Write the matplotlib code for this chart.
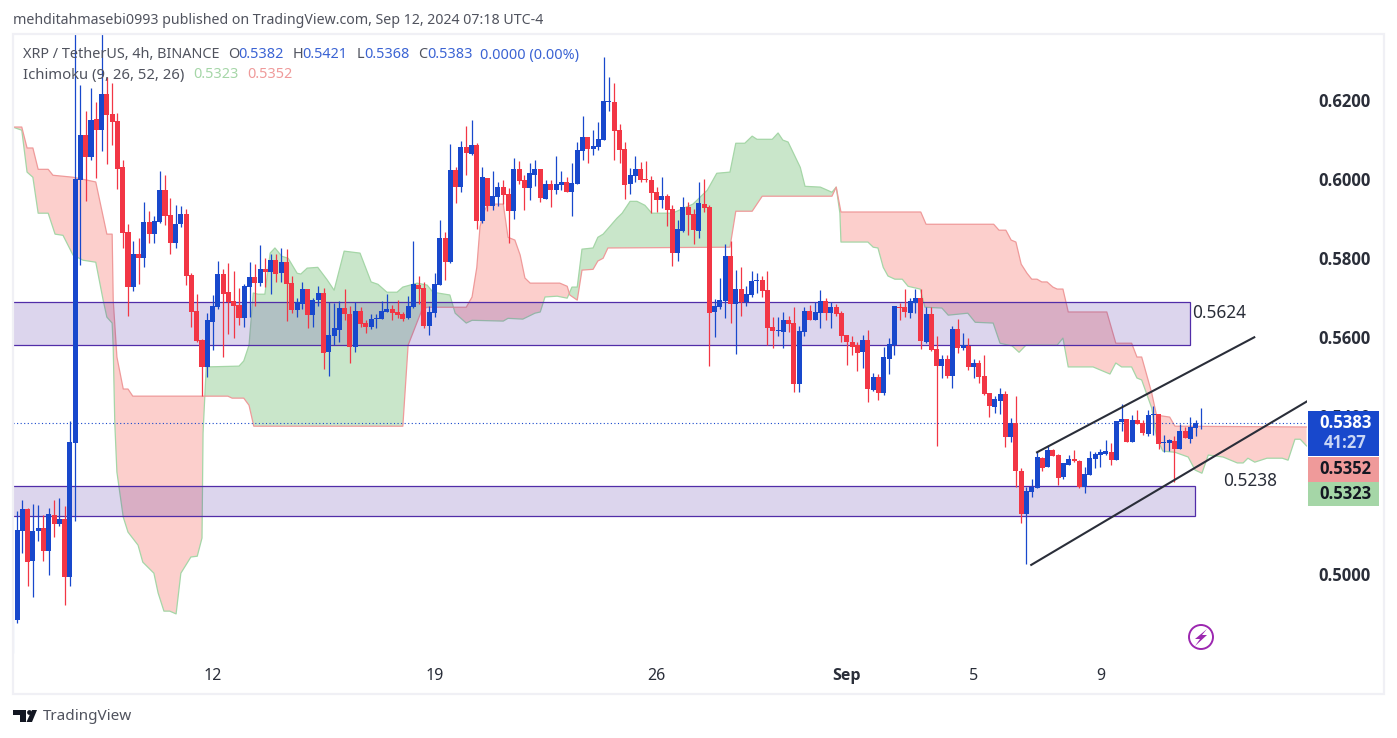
import numpy as np
import matplotlib
matplotlib.use("Agg")
import matplotlib.pyplot as plt
from matplotlib.patches import Rectangle, Circle, Polygon

plt.rcParams["font.family"] = ["Noto Sans", "DejaVu Sans"]

# 4h candles, from the first bar on screen to the live one
opens = [
    .4884, .5110, .5165, .5034, .5110, .5117, .5059, .5150, .5127, .5140,
    .4993, .5332, .5998, .6111, .6056, .6152, .6124, .6215, .6165, .6147,
    .6030, .5866, .5727, .5810, .5800, .5891, .5861, .5891, .5972, .5909,
    .5838, .5886, .5912, .5757, .5666, .5593, .5524, .5638, .5676, .5760,
    .5714, .5691, .5681, .5648, .5727, .5752, .5737, .5772, .5765, .5795,
    .5762, .5790, .5737, .5669, .5684, .5722, .5656, .5694, .5712, .5562,
    .5603, .5618, .5674, .5659, .5575, .5666, .5636, .5626, .5646, .5646,
    .5664, .5671, .5664, .5659, .5648, .5676, .5732, .5724, .5628, .5661,
    .5732, .5851, .5790, .6023, .5980, .6081, .6063, .6086, .5894, .6003,
    .5932, .5955, .5980, .5962, .5919, .6025, .5998, .5977, .6010, .6025,
    .5950, .5987, .5972, .5985, .5993, .5967, .5987, .6071, .6106, .6076,
    .6081, .6099, .6195, .6195, .6124, .6076, .5987, .6008, .6025, .6000,
    .5998, .5967, .5947, .5957, .5924, .5813, .5869, .5929, .5912, .5869,
    .5937, .5929, .5664, .5676, .5691, .5805, .5684, .5722, .5689, .5707,
    .5742, .5745, .5719, .5626, .5616, .5613, .5643, .5636, .5481, .5613,
    .5666, .5643, .5661, .5691, .5661, .5676, .5661, .5605, .5588, .5580,
    .5562, .5593, .5466, .5499, .5459, .5545, .5580, .5676, .5676, .5661,
    .5686, .5699, .5588, .5659, .5570, .5527, .5545, .5502, .5621, .5573,
    .5578, .5524, .5535, .5502, .5459, .5423, .5438, .5456, .5347, .5383,
    .5261, .5153, .5208, .5218, .5294, .5271, .5314, .5302, .5246, .5277,
    .5292, .5287, .5221, .5251, .5292, .5302, .5304, .5309, .5289, .5385,
    .5393, .5335, .5390, .5383, .5355, .5403, .5406, .5332, .5332, .5337,
    .5317, .5363, .5342, .5370, .5382,
]
highs = [
    .5160, .5188, .5168, .5178, .5175, .5150, .5168, .5188, .5193, .5173,
    .5388, .6432, .6238, .6172, .6230, .6195, .6410, .6258, .6243, .6167,
    .6048, .5886, .5843, .5851, .5942, .5919, .5906, .6020, .6010, .5952,
    .5934, .5932, .5924, .5762, .5709, .5595, .5661, .5707, .5793, .5772,
    .5788, .5767, .5724, .5734, .5790, .5785, .5833, .5800, .5810, .5810,
    .5826, .5823, .5755, .5699, .5740, .5722, .5699, .5729, .5724, .5689,
    .5686, .5691, .5722, .5679, .5689, .5676, .5643, .5659, .5659, .5691,
    .5709, .5681, .5694, .5664, .5704, .5843, .5755, .5740, .5679, .5762,
    .5896, .5866, .6089, .6030, .6096, .6134, .6149, .6091, .6030, .6003,
    .6020, .5992, .5998, .5977, .6053, .6046, .6010, .6041, .6048, .6025,
    .5998, .5998, .6058, .6020, .6005, .6041, .6094, .6160, .6106, .6124,
    .6144, .6309, .6258, .6243, .6139, .6094, .6028, .6058, .6043, .6046,
    .6008, .5980, .6005, .5962, .5934, .5896, .5955, .5942, .5924, .5993,
    .6000, .5934, .5697, .5750, .5836, .5843, .5770, .5778, .5729, .5767,
    .5762, .5755, .5767, .5651, .5651, .5664, .5654, .5676, .5628, .5676,
    .5681, .5689, .5719, .5699, .5689, .5684, .5666, .5605, .5603, .5588,
    .5605, .5618, .5509, .5507, .5575, .5598, .5679, .5686, .5722, .5699,
    .5722, .5722, .5676, .5676, .5603, .5555, .5555, .5628, .5646, .5611,
    .5598, .5545, .5542, .5555, .5459, .5451, .5471, .5464, .5395, .5451,
    .5269, .5221, .5241, .5309, .5297, .5327, .5317, .5304, .5282, .5302,
    .5314, .5289, .5271, .5312, .5309, .5317, .5340, .5332, .5388, .5431,
    .5393, .5403, .5416, .5390, .5416, .5426, .5406, .5352, .5342, .5350,
    .5380, .5373, .5398, .5390, .5421,
]
lows = [
    .4877, .5054, .4970, .4943, .5084, .5034, .4998, .5094, .5122, .4922,
    .4970, .5135, .5783, .5945, .6048, .6003, .6071, .6038, .6086, .5975,
    .5826, .5654, .5717, .5734, .5778, .5838, .5838, .5889, .5884, .5810,
    .5826, .5879, .5732, .5626, .5588, .5451, .5499, .5568, .5671, .5550,
    .5608, .5598, .5631, .5626, .5651, .5679, .5729, .5727, .5709, .5740,
    .5740, .5641, .5661, .5651, .5671, .5623, .5626, .5679, .5519, .5502,
    .5580, .5588, .5643, .5535, .5562, .5626, .5611, .5621, .5623, .5646,
    .5664, .5643, .5649, .5641, .5646, .5674, .5684, .5623, .5605, .5651,
    .5732, .5745, .5788, .5939, .5967, .6010, .6061, .5874, .5889, .5919,
    .5922, .5932, .5937, .5838, .5899, .5987, .5922, .5947, .5982, .5942,
    .5950, .5929, .5962, .5972, .5967, .5907, .5987, .6048, .6041, .6061,
    .6074, .6099, .6172, .6048, .6041, .5950, .5962, .5993, .5993, .5993,
    .5914, .5917, .5927, .5881, .5780, .5793, .5866, .5858, .5836, .5851,
    .5917, .5527, .5600, .5671, .5648, .5636, .5557, .5654, .5679, .5702,
    .5712, .5702, .5580, .5573, .5603, .5573, .5613, .5461, .5461, .5603,
    .5643, .5643, .5623, .5643, .5623, .5654, .5588, .5530, .5555, .5514,
    .5522, .5436, .5464, .5441, .5454, .5507, .5555, .5643, .5651, .5649,
    .5661, .5570, .5585, .5565, .5325, .5497, .5497, .5471, .5560, .5568,
    .5517, .5497, .5484, .5454, .5398, .5408, .5406, .5322, .5335, .5221,
    .5130, .5026, .5196, .5218, .5261, .5271, .5299, .5226, .5241, .5277,
    .5284, .5218, .5206, .5251, .5269, .5271, .5302, .5277, .5289, .5363,
    .5335, .5335, .5380, .5352, .5350, .5352, .5317, .5309, .5312, .5234,
    .5317, .5345, .5332, .5350, .5368,
]
closes = [
    .5112, .5165, .5031, .5110, .5117, .5059, .5153, .5127, .5140, .4993,
    .5335, .6000, .6111, .6056, .6149, .6124, .6215, .6162, .6144, .6025,
    .5863, .5727, .5810, .5800, .5891, .5861, .5894, .5972, .5906, .5838,
    .5886, .5912, .5755, .5664, .5590, .5524, .5643, .5679, .5760, .5709,
    .5689, .5679, .5648, .5729, .5752, .5737, .5772, .5765, .5795, .5760,
    .5790, .5734, .5669, .5689, .5722, .5656, .5694, .5712, .5560, .5605,
    .5623, .5674, .5659, .5575, .5666, .5633, .5626, .5646, .5648, .5666,
    .5671, .5661, .5656, .5646, .5679, .5734, .5722, .5628, .5664, .5734,
    .5851, .5790, .6023, .5980, .6081, .6066, .6086, .5894, .6005, .5932,
    .5957, .5980, .5960, .5919, .6025, .5995, .5977, .6015, .6025, .5952,
    .5987, .5972, .5987, .5993, .5967, .5990, .6074, .6106, .6076, .6084,
    .6101, .6197, .6197, .6122, .6074, .5985, .6010, .6025, .5998, .5998,
    .5965, .5947, .5957, .5922, .5813, .5874, .5929, .5909, .5871, .5939,
    .5927, .5661, .5679, .5694, .5805, .5684, .5722, .5689, .5709, .5742,
    .5745, .5717, .5623, .5616, .5618, .5643, .5633, .5481, .5616, .5666,
    .5643, .5664, .5691, .5661, .5676, .5659, .5603, .5588, .5575, .5560,
    .5593, .5469, .5499, .5459, .5550, .5583, .5679, .5674, .5664, .5691,
    .5699, .5590, .5659, .5568, .5527, .5545, .5502, .5621, .5573, .5580,
    .5524, .5535, .5499, .5456, .5426, .5443, .5456, .5347, .5383, .5261,
    .5153, .5211, .5221, .5297, .5269, .5314, .5299, .5244, .5282, .5292,
    .5287, .5221, .5254, .5294, .5304, .5309, .5312, .5289, .5388, .5393,
    .5335, .5390, .5380, .5358, .5403, .5406, .5330, .5335, .5340, .5317,
    .5363, .5345, .5373, .5383, .5383,
]
# wick of the bar cut off by the left edge
cut_bar_low = .4801
cut_bar_high = .4887

# Ichimoku leading spans, read at the corners of each line (bar number, price)
span_a_bars = [
    -0.8, 0.9, 1.9, 3.0, 4.0, 5.9, 7.2, 8.7, 10.6, 12.5, 14.9, 16.3, 17.0, 18.0,
    18.2, 18.5, 18.9, 20.1, 21.0, 22.9, 23.8, 25.9, 26.7, 27.8, 28.9, 30.1, 31.0,
    32.9, 34.1, 35.0, 35.2, 35.8, 42.0, 42.9, 43.9, 44.7, 45.6, 46.9, 47.9, 48.8,
    50.1, 51.3, 53.0, 53.7, 54.9, 56.9, 58.7, 60.0, 61.9, 64.9, 67.0, 68.3, 70.0,
    71.9, 73.0, 75.7, 77.6, 78.7, 81.9, 82.9, 85.0, 86.1, 92.0, 92.9, 95.7, 98.0,
    99.0, 99.9, 102.2, 104.1, 105.0, 106.0, 106.9, 109.0, 109.9, 110.9, 113.5,
    114.5, 116.0, 117.3, 118.8, 120.1, 124.0, 127.9, 130.6, 132.4, 134.9, 136.0,
    137.7, 139.1, 140.0, 142.9, 144.0, 144.9, 145.9, 148.2, 149.1, 152.0, 154.2,
    155.0, 155.7, 155.9, 161.0, 162.0, 162.9, 163.9, 164.8, 166.1, 167.5, 168.6,
    170.9, 171.8, 175.0, 176.2, 179.9, 181.3, 184.7, 186.0, 188.3, 189.6, 190.9,
    196.8, 197.9, 198.9, 203.6, 206.8, 207.9, 209.0, 210.9, 211.9, 212.8, 214.7,
    215.6, 216.8, 219.1, 221.6, 222.9, 224.2, 225.4, 228.2, 230.9, 232.0, 232.9,
    234.2, 236.5, 239.4, 240.5, 241.8, 242.8, 244.0,
]
span_a = [
    .6132, .6124, .6018, .6005, .5914, .5914, .5861, .5858, .5808, .5795, .5790, .5694, .5651, .5636,
    .5575, .5383, .5259, .5145, .5107, .5074, .5031, .5003, .4953, .4907, .4907, .4900, .5003,
    .5044, .5046, .5092, .5358, .5525, .5527, .5540, .5580, .5712, .5709, .5709, .5813, .5826,
    .5805, .5800, .5762, .5760, .5775, .5777, .5745, .5719, .5818, .5813, .5740, .5734, .5714,
    .5714, .5727, .5737, .5732, .5714, .5707, .5661, .5636, .5643, .5641, .5648, .5646, .5661,
    .5664, .5702, .5704, .5699, .5727, .5727, .5823, .5826, .5853, .5861, .5901,
    .5914, .5944, .5944, .5934, .5914, .5914, .5937, .5972, .6015, .6018, .6091,
    .6091, .6109, .6101, .6101, .6117, .6099, .6094, .6030, .5982, .5980, .5967,
    .5980, .5914, .5841, .5841, .5828, .5826, .5777, .5755, .5747, .5747, .5729,
    .5722, .5676, .5674, .5656, .5661, .5638, .5636, .5585, .5578, .5562, .5580,
    .5580, .5598, .5525, .5525, .5507, .5535, .5525, .5525, .5497, .5492, .5421,
    .5347, .5312, .5309, .5297, .5264, .5256, .5302, .5297, .5282, .5282, .5294,
    .5284, .5294, .5294, .5289, .5342, .5342, .5325,
]
span_b_bars = [
    -0.8, 0.9, 1.9, 3.0, 4.0, 5.9, 6.8, 10.6, 14.9, 17.0, 18.0, 18.2, 18.9, 20.1,
    21.0, 21.9, 39.9, 40.7, 42.9, 43.9, 44.8, 73.0, 74.0, 76.6, 77.6, 85.0, 86.1,
    87.0, 87.6, 88.2, 89.1, 92.0, 92.9, 94.2, 95.2, 96.1, 97.1, 102.7, 104.1, 104.6,
    106.0, 106.9, 109.0, 109.9, 110.9, 111.8, 134.9, 136.0, 139.1, 141.0, 154.2,
    155.0, 155.9, 171.0, 172.0, 184.8, 185.8, 187.1, 188.1, 189.0, 190.0, 191.1,
    192.0, 193.0, 193.9, 194.9, 196.0, 196.8, 197.9, 198.7, 198.9, 206.2, 207.9,
    210.9, 211.9, 212.8, 214.7, 215.6, 218.1, 219.1, 244.0,
]
span_b = [
    .6132, .6132, .6079, .6079, .6025, .6025, .6010, .6005, .5993, .5861, .5861, .5694, .5550, .5469,
    .5469, .5451, .5451, .5446, .5446, .5428, .5375, .5375, .5580, .5669, .5676, .5676, .5702,
    .5777, .5879, .5914, .5937, .5937, .5853, .5846, .5808, .5750, .5737, .5737, .5729, .5707,
    .5694, .5770, .5772, .5793, .5800, .5826, .5828, .5919, .5919, .5957, .5957,
    .5980, .5917, .5917, .5886, .5886, .5871, .5871, .5846, .5841, .5785, .5762,
    .5747, .5747, .5740, .5740, .5727, .5722, .5722, .5676, .5664, .5664, .5585,
    .5585, .5550, .5550, .5459, .5403, .5398, .5375, .5373,
]

# drawn zones: (bar where they end, top price, bottom price)
zone_upper = (221.9, .5689, .5580)
zone_lower = (222.9, .5223, .5147)
zone_labels = ["0.5624", "0.5238"]

# channel lines
channel_upper_bars = [193.0, 234.1]
channel_upper = [.5309, .5600]
channel_lower_bars = [191.9, 244.1]
channel_lower = [.5024, .5438]

last_price = .5383
price_ticks = [.50, .54, .56, .58, .60, .62]
date_bars = [37, 79, 121, 157, 181, 205]
date_labels = ["12", "19", "26", "Sep", "5", "9"]

BLUE = "#1848cc"
RED = "#f23645"
CLOUD_RED = "#f44336"
CLOUD_GREEN = "#4caf50"
LINE_RED = "#ef9a9a"
LINE_GREEN = "#a5d6a7"
ZONE = "#512da8"
TEXT = "#50535e"
DARK = "#2a2e39"
BOLD_FONT = "Open Sans"

W, H = 1397, 738
fig = plt.figure(figsize=(W / 100, H / 100), dpi=100, facecolor="white")
ax = fig.add_axes([13 / W, 1 - 655 / H, (1307 - 13) / W, (655 - 33) / H])
ax.set_xlim(-0.76, 244.08)
ax.set_ylim(.4796, .6370)

# cloud
span_a_bars = np.array(span_a_bars)
span_b_bars = np.array(span_b_bars)
grid = np.union1d(span_a_bars, span_b_bars)
a_on_grid = np.interp(grid, span_a_bars, span_a)
b_on_grid = np.interp(grid, span_b_bars, span_b)
ax.fill_between(grid, a_on_grid, b_on_grid, where=a_on_grid >= b_on_grid, interpolate=True,
                color=CLOUD_GREEN, alpha=0.3, lw=0, zorder=1)
ax.fill_between(grid, a_on_grid, b_on_grid, where=a_on_grid <= b_on_grid, interpolate=True,
                color=CLOUD_RED, alpha=0.25, lw=0, zorder=1)
ax.plot(span_a_bars, span_a, color=LINE_GREEN, lw=0.9, zorder=2)
ax.plot(span_b_bars, span_b, color=LINE_RED, lw=0.9, zorder=2)

# zones
for end_bar, top, bottom in (zone_upper, zone_lower):
    ax.add_patch(Rectangle((-3, bottom), end_bar + 3, top - bottom, facecolor=ZONE, alpha=0.2,
                           lw=0, zorder=3))
    ax.add_patch(Rectangle((-3, bottom), end_bar + 3, top - bottom, fill=False, edgecolor=ZONE,
                           lw=0.9, zorder=3))

ax.axhline(last_price, color=BLUE, lw=0.8, ls=(0, (1, 2.2)), zorder=4)

# candles
opens = np.array(opens)
closes = np.array(closes)
bars = np.arange(len(opens))
colors = [BLUE if c >= o else RED for o, c in zip(opens, closes)]
ax.vlines(bars, lows, highs, colors=colors, lw=0.9, zorder=5)
ax.bar(bars, np.abs(closes - opens), bottom=np.minimum(opens, closes), width=0.95, color=colors,
       lw=0, zorder=6)
ax.vlines(-0.7, cut_bar_low, cut_bar_high, colors="#7f97e0", lw=0.8, zorder=5)

# channel
ax.plot(channel_upper_bars, channel_upper, color=DARK, lw=1.5, zorder=7)
ax.plot(channel_lower_bars, channel_lower, color=DARK, lw=1.5, zorder=7)

ax.text(221.9 + 0.5, .5662, zone_labels[0], fontsize=12.4, color=DARK, va="center", zorder=8)
ax.text(228.2, .5236, zone_labels[1], fontsize=12.4, color=DARK, va="center", zorder=8)

for s in ax.spines.values():
    s.set_visible(False)
ax.yaxis.tick_right()
ax.set_yticks(price_ticks)
ax.set_yticklabels([f"{p:.4f}" for p in price_ticks], fontsize=12, fontweight="bold", color=DARK,
                   family=BOLD_FONT)
ax.set_xticks(date_bars)
ax.set_xticklabels(date_labels, fontsize=11.5, color=DARK)
ax.get_xticklabels()[3].set_fontweight("bold")
ax.get_xticklabels()[3].set_family(BOLD_FONT)
ax.tick_params(axis="both", length=0)
ax.tick_params(axis="y", pad=8)
ax.tick_params(axis="x", pad=9)

# everything around the chart, in pixels
over = fig.add_axes([0, 0, 1, 1], zorder=10)
over.set_xlim(0, W)
over.set_ylim(H, 0)
over.axis("off")
over.patch.set_alpha(0)

over.add_patch(Rectangle((13, 33.5), 1371, 660, fill=False, edgecolor="#f0f0f5", lw=1.6))

over.text(13, 20.5, "mehditahmasebi0993 published on TradingView.com, Sep 12, 2024 07:18 UTC-4",
          fontsize=10.2, color=TEXT, va="center")

over.text(23, 55, "XRP / TetherUS, 4h, BINANCE", fontsize=10.4, color=TEXT, va="center")
for x, t, col in [(228, "O", TEXT), (238, "0.5382", BLUE), (293, "H", TEXT), (302, "0.5421", BLUE),
                  (357, "L", TEXT), (364, "0.5368", BLUE), (418, "C", TEXT), (427, "0.5383", BLUE),
                  (480, "0.0000 (0.00%)", BLUE)]:
    over.text(x, 55, t, fontsize=10.4, color=col, va="center", alpha=1 if col == TEXT else 0.85)
over.text(23, 75, "Ichimoku (9, 26, 52, 26)", fontsize=10.7, color=TEXT, va="center")
over.text(193, 75, "0.5323", fontsize=10.4, color=LINE_GREEN, va="center")
over.text(247, 75, "0.5352", fontsize=10.4, color=LINE_RED, va="center")

# last price and indicator tags
over.add_patch(Rectangle((1308, 411), 71, 45, facecolor=BLUE, lw=0))
over.add_patch(Rectangle((1308, 457), 71, 25, facecolor=LINE_RED, lw=0))
over.add_patch(Rectangle((1308, 482), 71, 24, facecolor=LINE_GREEN, lw=0))
for y, t, col in [(423.5, "0.5383", "white"), (443.5, "41:27", "#c9d6f5"),
                  (469.5, "0.5352", "#131722"), (494, "0.5323", "#131722")]:
    over.text(1345.5, y, t, fontsize=12, fontweight="bold", family=BOLD_FONT, color=col,
              ha="center", va="center")

# bolt badge
over.add_patch(Circle((1201, 637), 12, fill=False, edgecolor="#9c27b0", lw=1.4))
over.add_patch(Polygon([(1207, 629), (1195, 639), (1200, 639), (1195, 646), (1207, 635), (1202, 635)],
                       facecolor="#9c27b0", lw=0))

# logo
over.add_patch(Polygon([(13, 710), (26, 710), (26, 722), (20, 722), (20, 715), (13, 715)], facecolor="#131722", lw=0))
over.add_patch(Circle((29.5, 712.5), 2.4, facecolor="#131722", lw=0))
over.add_patch(Polygon([(32, 710), (37, 710), (32, 722), (26.5, 722)], facecolor="#131722", lw=0))
over.text(43, 716.5, "TradingView", fontsize=11, color=TEXT, va="center")

fig.savefig("out.png", dpi=100)
